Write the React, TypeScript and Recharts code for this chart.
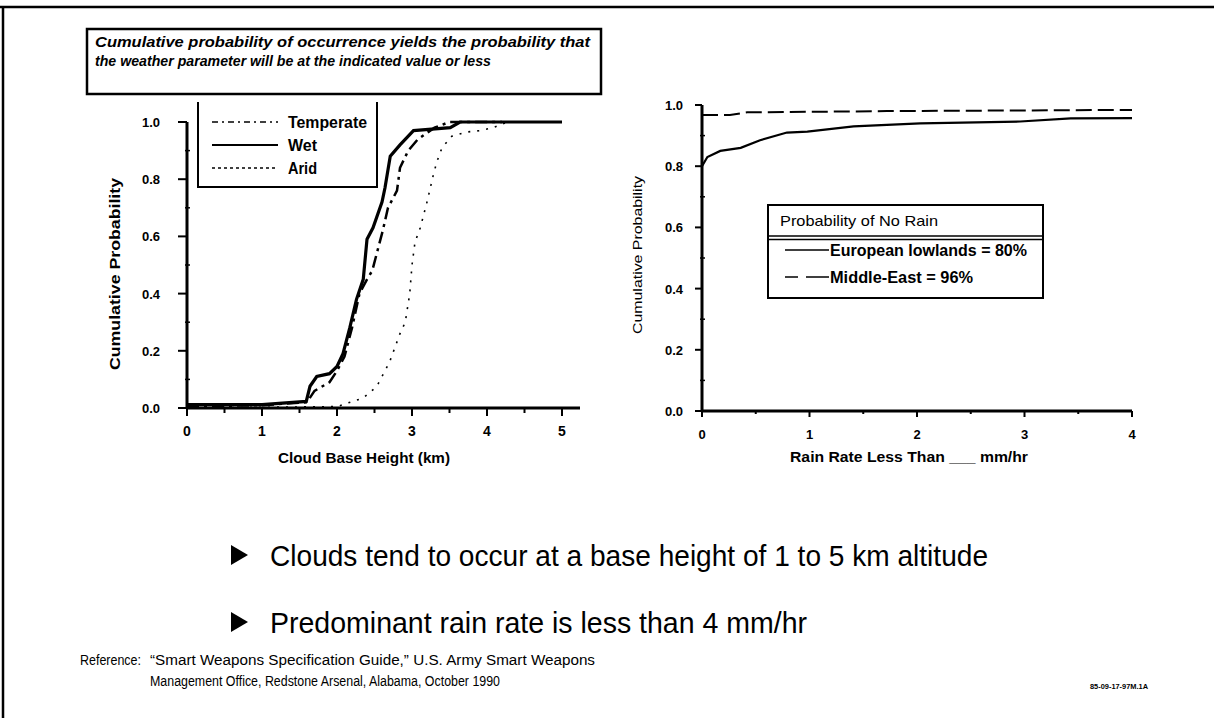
import React from 'react';
import { LineChart, Line, XAxis, YAxis } from 'recharts';

// Cloud base height (km) vs cumulative probability
const wetHeight = [0, 0.5, 1.0, 1.59, 1.64, 1.73, 1.9, 2.0, 2.08, 2.17, 2.26, 2.35, 2.4, 2.48, 2.6, 2.64, 2.71, 2.84, 3.02, 3.51, 3.64, 4.2, 5.0];
const wetProb = [0.012, 0.012, 0.012, 0.023, 0.076, 0.11, 0.12, 0.145, 0.19, 0.28, 0.38, 0.45, 0.59, 0.63, 0.72, 0.77, 0.88, 0.92, 0.97, 0.98, 1.0, 1.0, 1.0];

const temperateHeight = [0, 1.0, 1.3, 1.6, 1.7, 1.9, 2.0, 2.1, 2.2, 2.3, 2.4, 2.47, 2.53, 2.61, 2.68, 2.8, 2.84, 2.95, 3.08, 3.3, 3.5, 4.2];
const temperateProb = [0.005, 0.01, 0.015, 0.02, 0.06, 0.09, 0.13, 0.18, 0.28, 0.4, 0.45, 0.48, 0.54, 0.62, 0.7, 0.76, 0.84, 0.9, 0.94, 0.98, 1.0, 1.0];

const aridHeight = [0, 2.0, 2.35, 2.53, 2.62, 2.7, 2.77, 2.84, 2.91, 2.97, 3.0, 3.04, 3.11, 3.2, 3.28, 3.33, 3.4, 3.53, 3.73, 3.91, 4.08, 4.27];
const aridProb = [0, 0.005, 0.035, 0.075, 0.12, 0.16, 0.21, 0.26, 0.3, 0.4, 0.5, 0.58, 0.63, 0.72, 0.81, 0.86, 0.91, 0.95, 0.965, 0.97, 0.98, 1.0];

// Rain rate (mm/hr) vs cumulative probability
const europeRate = [0, 0.05, 0.17, 0.36, 0.54, 0.79, 0.98, 1.41, 2.03, 2.96, 3.43, 4.0];
const europeProb = [0.8, 0.83, 0.85, 0.86, 0.885, 0.91, 0.913, 0.93, 0.94, 0.946, 0.956, 0.957];
const mideastRate = [0, 0.26, 0.42, 1.72, 4.0];
const mideastProb = [0.967, 0.967, 0.976, 0.98, 0.984];

// ticks (majors get labels)
const cloudTicks = [0, 0.5, 1, 1.5, 2, 2.5, 3, 3.5, 4, 4.5, 5];
const rainTicks = [0, 0.5, 1, 1.5, 2, 2.5, 3, 3.5, 4];
const probTicks = [0, 0.1, 0.2, 0.3, 0.4, 0.5, 0.6, 0.7, 0.8, 0.9, 1.0];

const pairs = (xs: number[], ys: number[]) => xs.map((x, i) => ({ x, p: ys[i] }));

const FONT = '"Liberation Sans", Arial, sans-serif';

const isMajorProb = (v: number) => Math.abs(v * 5 - Math.round(v * 5)) < 1e-6;

const makeXTick = (size: number, len: number) => (props: any) => {
  const { x, y, payload } = props;
  const v = payload.value;
  const major = Number.isInteger(v);
  return (
    <g>
      <line x1={x} y1={y} x2={x} y2={y + (major ? len : len - 3)} stroke="#000" strokeWidth={2} />
      {major && (
        <text x={x} y={y + 28} textAnchor="middle" fontFamily={FONT} fontWeight="bold" fontSize={size} fill="#000">
          {v}
        </text>
      )}
    </g>
  );
};

const makeYTick = (size: number, len: number, gap: number) => (props: any) => {
  const { x, y, payload } = props;
  const v = payload.value;
  const major = isMajorProb(v);
  return (
    <g>
      {major ? (
        <line x1={x - len} y1={y} x2={x} y2={y} stroke="#000" strokeWidth={2} />
      ) : (
        <line x1={x - 2} y1={y} x2={x + 3} y2={y} stroke="#000" strokeWidth={1.5} />
      )}
      {major && (
        <text x={x - gap} y={y + 5} textAnchor="end" fontFamily={FONT} fontWeight="bold" fontSize={size} fill="#000">
          {v.toFixed(1)}
        </text>
      )}
    </g>
  );
};

// text squeezed to the measured width, like the condensed face of the original
const T = ({ x, y, w, size, bold, italic, anchor, rotate, children }: any) => (
  <text
    x={x}
    y={y}
    fontFamily={FONT}
    fontSize={size}
    fontWeight={bold ? 'bold' : 'normal'}
    fontStyle={italic ? 'italic' : 'normal'}
    textAnchor={anchor || 'start'}
    textLength={w}
    lengthAdjust="spacingAndGlyphs"
    transform={rotate ? `rotate(-90 ${x} ${y})` : undefined}
    fill="#000"
  >
    {children}
  </text>
);

const App: React.FC = () => {
  return (
    <div style={{ position: 'fixed', left: 0, top: 0, width: 1214, height: 718, background: '#fff', overflow: 'hidden' }}>
      {/* left chart */}
      <div style={{ position: 'absolute', left: 90, top: 110 }}>
        <LineChart width={510} height={360} margin={{ top: 12, right: 20, bottom: 2, left: 0 }}>
          <XAxis
            dataKey="x"
            type="number"
            domain={[0, 5.24]}
            allowDataOverflow
            ticks={cloudTicks}
            interval={0}
            tickSize={0}
            tickMargin={0}
            height={60}
            axisLine={{ stroke: '#000', strokeWidth: 3 }}
            tick={makeXTick(14, 8)}
          />
          <YAxis
            type="number"
            domain={[0, 1]}
            ticks={probTicks}
            interval={0}
            tickSize={0}
            tickMargin={0}
            width={97}
            axisLine={{ stroke: '#000', strokeWidth: 3 }}
            tick={makeYTick(13, 9, 27)}
          />
          <Line data={pairs(aridHeight, aridProb)} dataKey="p" type="linear" stroke="#000" strokeWidth={1.6} strokeDasharray="2 7" dot={false} isAnimationActive={false} />
          <Line data={pairs(temperateHeight, temperateProb)} dataKey="p" type="linear" stroke="#000" strokeWidth={2.5} strokeDasharray="12 5 3 5" dot={false} isAnimationActive={false} />
          <Line data={pairs(wetHeight, wetProb)} dataKey="p" type="linear" stroke="#000" strokeWidth={3.2} dot={false} isAnimationActive={false} />
        </LineChart>
      </div>

      {/* right chart */}
      <div style={{ position: 'absolute', left: 610, top: 95 }}>
        <LineChart width={540} height={376} margin={{ top: 10, right: 18, bottom: 0, left: 0 }}>
          <XAxis
            dataKey="x"
            type="number"
            domain={[0, 4]}
            allowDataOverflow
            ticks={rainTicks}
            interval={0}
            tickSize={0}
            tickMargin={0}
            height={60}
            axisLine={{ stroke: '#000', strokeWidth: 3 }}
            tick={makeXTick(13, 6)}
          />
          <YAxis
            type="number"
            domain={[0, 1]}
            ticks={probTicks}
            interval={0}
            tickSize={0}
            tickMargin={0}
            width={92}
            axisLine={{ stroke: '#000', strokeWidth: 3 }}
            tick={makeYTick(13, 7, 19)}
          />
          <Line data={pairs(mideastRate, mideastProb)} dataKey="p" type="linear" stroke="#000" strokeWidth={2} strokeDasharray="16 6" dot={false} isAnimationActive={false} />
          <Line data={pairs(europeRate, europeProb)} dataKey="p" type="linear" stroke="#000" strokeWidth={2.2} dot={false} isAnimationActive={false} />
        </LineChart>
      </div>

      {/* slide furniture: frame, caption, titles, legends, bullets, reference */}
      <svg width={1214} height={718} style={{ position: 'absolute', left: 0, top: 0, pointerEvents: 'none' }}>
        <line x1={0} y1={7} x2={1214} y2={7} stroke="#000" strokeWidth={2.5} />
        <line x1={3} y1={6} x2={3} y2={718} stroke="#000" strokeWidth={2.5} />

        <rect x={87} y={29} width={514} height={65} fill="#fff" stroke="#000" strokeWidth={2.5} />
        <T x={95} y={47} w={495} size={15} bold italic>Cumulative probability of occurrence yields the probability that</T>
        <T x={95} y={66} w={396} size={15} bold italic>the weather parameter will be at the indicated value or less</T>

        {/* left chart titles */}
        <T x={120} y={274} w={192} size={15} bold anchor="middle" rotate>Cumulative Probability</T>
        <T x={364} y={463} w={172} size={15} bold anchor="middle">Cloud Base Height (km)</T>

        {/* left legend */}
        <path d="M198 102 V187 H377 V102" fill="#fff" stroke="#000" strokeWidth={2} />
        <line x1={212} y1={122} x2={278} y2={122} stroke="#000" strokeWidth={1.5} strokeDasharray="6 4 2 4" />
        <T x={288} y={128} w={79} size={16} bold>Temperate</T>
        <line x1={212} y1={145} x2={278} y2={145} stroke="#000" strokeWidth={2} />
        <T x={288} y={151} w={29} size={16} bold>Wet</T>
        <line x1={212} y1={168} x2={278} y2={168} stroke="#000" strokeWidth={1.5} strokeDasharray="3 3" />
        <T x={288} y={174} w={29} size={16} bold>Arid</T>

        {/* right chart titles */}
        <T x={642} y={255} w={158} size={13} anchor="middle" rotate>Cumulative Probability</T>
        <T x={909} y={462} w={238} size={15} bold anchor="middle">Rain Rate Less Than ___ mm/hr</T>

        {/* right legend */}
        <rect x={768} y={205} width={275} height={93} fill="#fff" stroke="#000" strokeWidth={2} />
        <line x1={768} y1={236} x2={1043} y2={236} stroke="#000" strokeWidth={1.5} />
        <line x1={768} y1={239.5} x2={1043} y2={239.5} stroke="#000" strokeWidth={1.5} />
        <T x={780} y={226} w={158} size={15}>Probability of No Rain</T>
        <line x1={785} y1={250} x2={829} y2={250} stroke="#000" strokeWidth={1.5} />
        <T x={830} y={256} w={197} size={16} bold>European lowlands = 80%</T>
        <line x1={785} y1={277} x2={829} y2={277} stroke="#000" strokeWidth={1.5} strokeDasharray="13 8 23 0" />
        <T x={830} y={283} w={143} size={16} bold>Middle-East = 96%</T>

        {/* bullets */}
        <polygon points="231,545 248,555 231,565" fill="#000" />
        <T x={270} y={566} w={718} size={30}>Clouds tend to occur at a base height of 1 to 5 km altitude</T>
        <polygon points="231,612 248,622 231,632" fill="#000" />
        <T x={270} y={633} w={537} size={30}>Predominant rain rate is less than 4 mm/hr</T>

        {/* reference */}
        <T x={80} y={665} w={61} size={14}>Reference:</T>
        <T x={150} y={665} w={445} size={14}>“Smart Weapons Specification Guide,” U.S. Army Smart Weapons</T>
        <T x={150} y={686} w={350} size={14}>Management Office, Redstone Arsenal, Alabama, October 1990</T>
        <T x={1090} y={689} w={58} size={7} bold>85-09-17-97M.1A</T>
      </svg>
    </div>
  );
};

export default App;
